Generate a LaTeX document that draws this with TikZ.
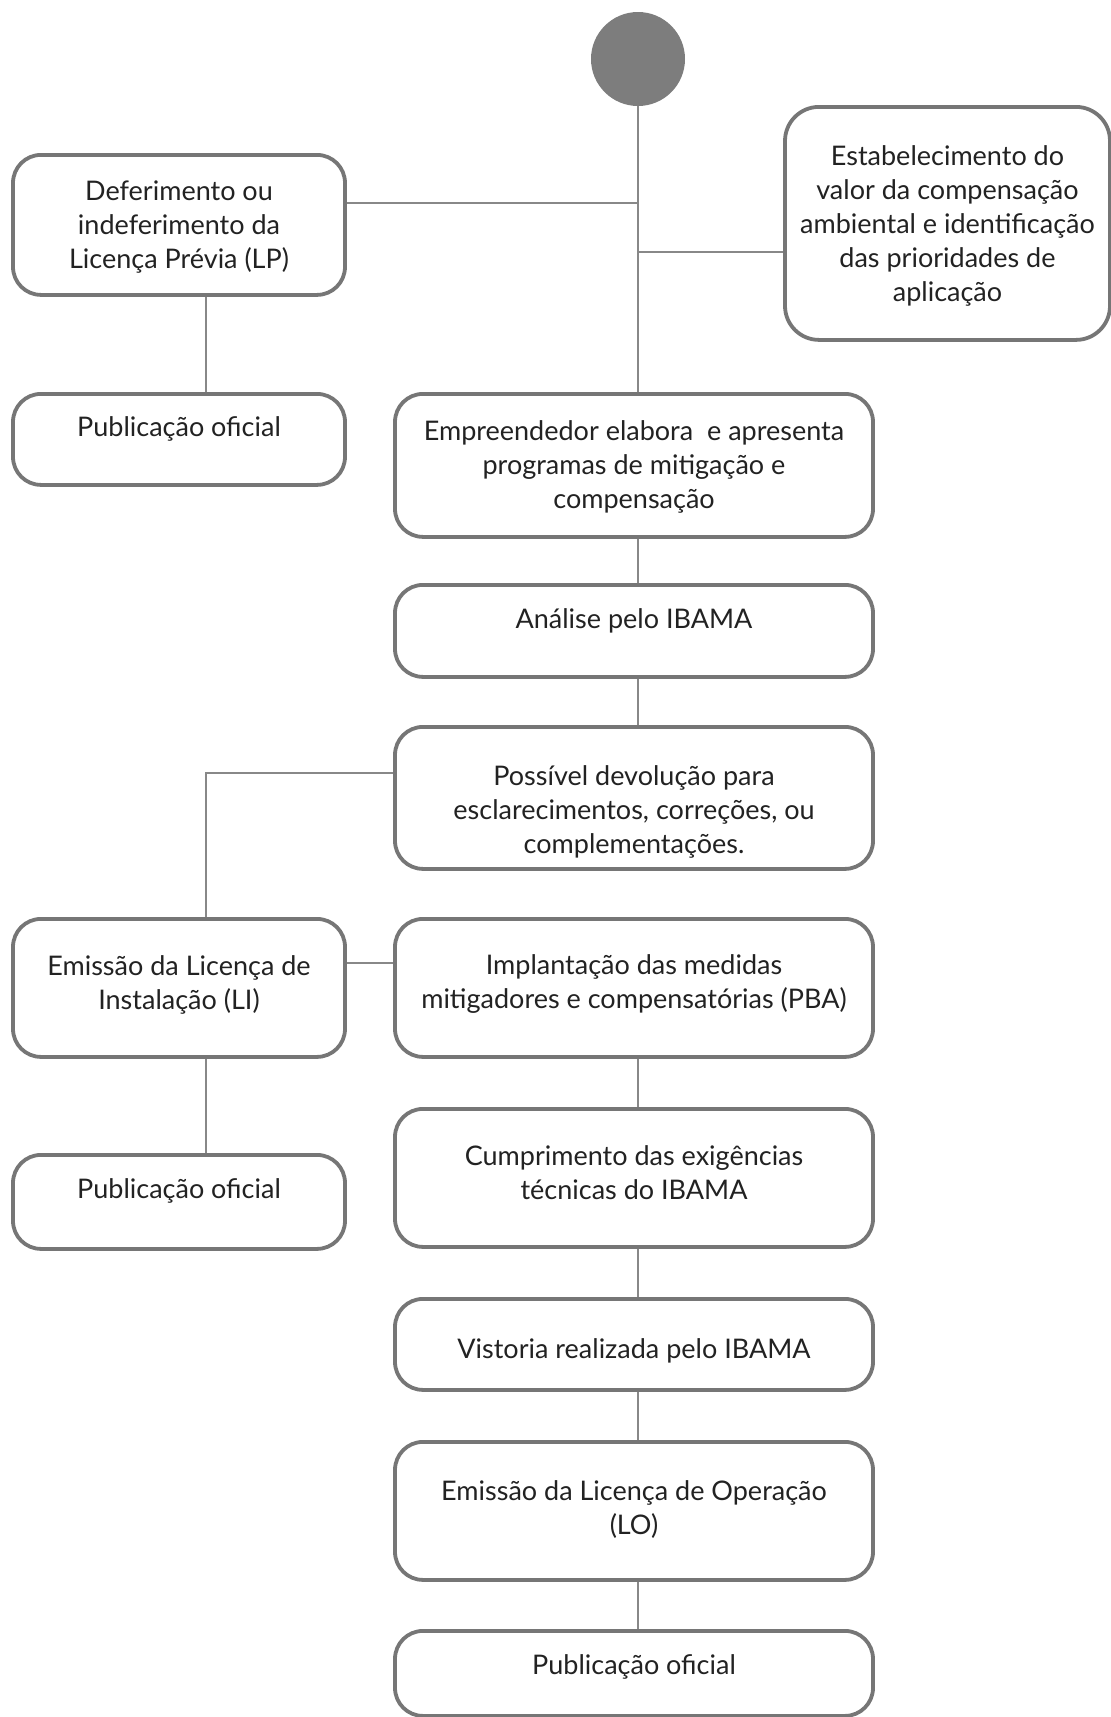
\documentclass[tikz,border=0pt]{standalone}
\usepackage{fontspec}
\setmainfont{Lato}
\usetikzlibrary{positioning}
\definecolor{borda}{RGB}{118,118,118}
\definecolor{linha}{RGB}{136,136,136}
\definecolor{disco}{RGB}{125,125,125}
\definecolor{letra}{RGB}{34,34,34}
\begin{document}
\begin{tikzpicture}[x=1pt,y=1pt,yscale=-1,
  caixa/.style={draw=borda, line width=3.8pt, rounded corners=28pt, fill=white,
    anchor=north, align=center, inner xsep=0pt, inner ysep=0pt, text=letra,
    font=\fontsize{27}{34}\selectfont},
  liga/.style={draw=linha, line width=2.4pt}]
\useasboundingbox (0,0) rectangle (1111,1717);

%Shape: Circle [inicio]
\node[circle, fill=disco, minimum size=94pt, inner sep=0pt] (inicio) at (638,59) {};

%Left column
\node[caixa, minimum width=332pt, text height=114pt, text depth=26pt] (defer) at (179,153)
  {Deferimento ou\\indeferimento da\\Licença Prévia (LP)};
\node[caixa, minimum width=332pt, text height=43pt, text depth=48pt] (pub1) at (179,392)
  {Publicação oficial};
\node[caixa, minimum width=332pt, text height=91pt, text depth=47pt] (li) at (179,917)
  {Emissão da Licença de\\Instalação (LI)};
\node[caixa, minimum width=332pt, text height=44pt, text depth=50pt] (pub2) at (179,1153)
  {Publicação oficial};

%Right box
\node[caixa, minimum width=325pt, text height=195pt, text depth=38pt, rounded corners=34pt] (estab) at (947.5,105)
  {Estabelecimento do\\valor da compensação\\ambiental e identificação\\das prioridades de\\aplicação};

%Central column
\node[caixa, minimum width=478pt, text height=115pt, text depth=28pt] (empre) at (634,392)
  {Empreendedor elabora~~e apresenta\\programas de mitigação e\\compensação};
\node[caixa, minimum width=478pt, text height=44pt, text depth=48pt] (analise) at (634,583)
  {Análise pelo IBAMA};
\node[caixa, minimum width=478pt, text height=127pt, text depth=15pt] (possivel) at (634,725)
  {Possível devolução para\\esclarecimentos, correções, ou\\complementações.};
\node[caixa, minimum width=478pt, text height=90pt, text depth=48pt] (impl) at (634,917)
  {Implantação das medidas\\mitigadores e compensatórias (PBA)};
\node[caixa, minimum width=478pt, text height=91pt, text depth=47pt] (cump) at (634,1107)
  {Cumprimento das exigências\\técnicas do IBAMA};
\node[caixa, minimum width=478pt, text height=60pt, text depth=31pt] (vist) at (634,1297)
  {Vistoria realizada pelo IBAMA};
\node[caixa, minimum width=478pt, text height=93pt, text depth=45pt] (lo) at (634,1440)
  {Emissão da Licença de Operação\\(LO)};
\node[caixa, minimum width=478pt, text height=44pt, text depth=41pt] (pub3) at (634,1629)
  {Publicação oficial};

%Junctions
\coordinate (eixo) at (638,0);
\coordinate (ramo) at (206,0);
\coordinate (jdefer) at (638,203);
\coordinate (jestab) at (638,252);
\coordinate (jposs) at (206,773);
\coordinate (jli) at (0,963);

%Straight Lines
\draw[liga] (inicio.south) -- (empre.north -| inicio);
\draw[liga] (defer.east |- jdefer) -- (jdefer);
\draw[liga] (jestab) -- (estab.west |- jestab);
\draw[liga] (defer.south -| ramo) -- (pub1.north -| ramo);
\draw[liga] (possivel.west |- jposs) -- (jposs) -- (li.north -| jposs);
\draw[liga] (li.east |- jli) -- (impl.west |- jli);
\draw[liga] (li.south -| ramo) -- (pub2.north -| ramo);
\draw[liga] (empre.south -| eixo) -- (analise.north -| eixo);
\draw[liga] (analise.south -| eixo) -- (possivel.north -| eixo);
\draw[liga] (impl.south -| eixo) -- (cump.north -| eixo);
\draw[liga] (cump.south -| eixo) -- (vist.north -| eixo);
\draw[liga] (vist.south -| eixo) -- (lo.north -| eixo);
\draw[liga] (lo.south -| eixo) -- (pub3.north -| eixo);

\end{tikzpicture}
\end{document}
